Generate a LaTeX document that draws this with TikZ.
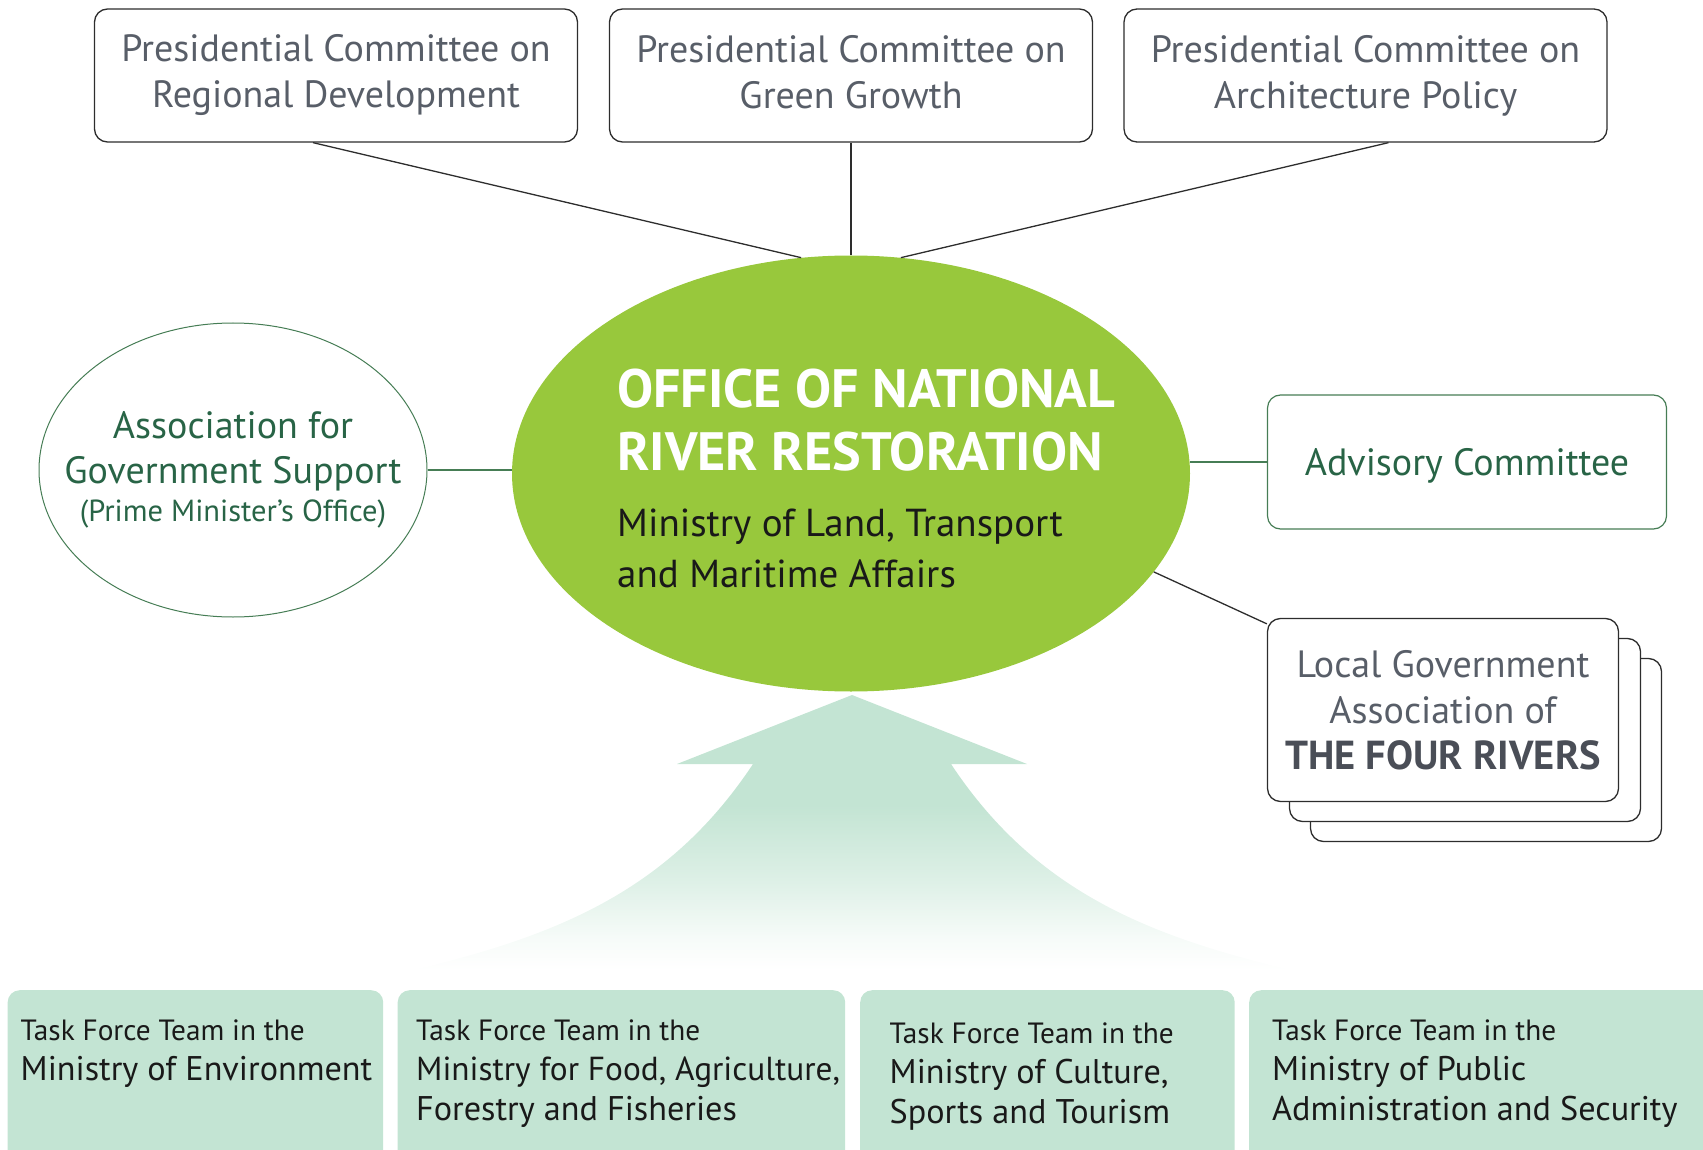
\documentclass[tikz,border=0pt]{standalone}
\usepackage{fontspec}
\setmainfont{PT Sans}
\usepackage{tikz}
\usetikzlibrary{shapes.geometric,positioning}

\definecolor{leaf}{RGB}{152,200,60}
\definecolor{mint}{RGB}{195,228,211}
\colorlet{mintpale}{mint!15!white}
\colorlet{mintmid}{mint!55!white}
\definecolor{slate}{RGB}{88,94,104}
\definecolor{slatedark}{RGB}{74,78,87}
\definecolor{pine}{RGB}{40,100,70}
\definecolor{pineline}{RGB}{70,125,85}
\definecolor{edge}{RGB}{45,45,45}
\definecolor{ink}{RGB}{25,25,25}

\pgfdeclareverticalshading{arrowfade}{100bp}{color(0bp)=(white); color(25bp)=(white); color(31bp)=(mintpale); color(41bp)=(mintmid); color(55bp)=(mint); color(100bp)=(mint)}

\begin{document}
\begin{tikzpicture}[x=1pt,y=-1pt,
		pcbox/.style={draw=edge, line width=1.3pt, rounded corners=13pt, minimum width=483pt, minimum height=133pt, align=center, text=slate, font=\fontsize{38}{46}\selectfont},
		office/.style={ellipse, fill=leaf, minimum width=678pt, minimum height=436pt, inner sep=0pt},
		assoc/.style={ellipse, draw=pineline, line width=1pt, minimum width=388pt, minimum height=294pt, inner sep=0pt},
		advbox/.style={draw=pineline, line width=1.2pt, rounded corners=13pt, minimum width=399pt, minimum height=134pt, text depth=0pt, text=pine, font=\fontsize{38}{46}\selectfont},
		lgbox/.style={draw=edge, fill=white, line width=1.3pt, rounded corners=13pt, minimum width=351pt, minimum height=183pt, align=center, text=slate, font=\fontsize{38}{46}\selectfont},
		tfbox/.style={fill=mint, rounded corners=12pt, anchor=north west, minimum height=190pt, inner sep=0pt},
		tftext/.style={anchor=north west, inner sep=0pt, align=left, text=ink, font=\fontsize{34.2}{40}\selectfont},
		link/.style={draw=edge, line width=1.3pt},
		greenlink/.style={draw=pineline, line width=1.2pt}]
		\useasboundingbox (0,0) rectangle (1703,1150);
		\clip (0,0) rectangle (1703,1150);
		%\draw [help lines, step=50] (0,0) grid (1703,1150);
		%Arrow
		\path [shading=arrowfade] (852,695) -- (1027,764) -- (951,764)
			.. controls (1034.5,890) and (1145.5,935.5) .. (1291,970) -- (413,970)
			.. controls (558.5,935.5) and (669.5,890) .. (753,764) -- (677,764) -- cycle;
		%Committees
		\node [pcbox] (pcregion) at (336,75.5) {Presidential Committee on\\Regional Development};
		\node [pcbox] (pcgreen) at (851,75.5) {Presidential Committee on\\Green Growth\vphantom{y}};
		\node [pcbox] (pcarch) at (1365.5,75.5) {Presidential Committee on\\Architecture Policy};
		%Office
		\node [office] (office) at (851,473.5) {};
		\node [anchor=north west, inner sep=0pt, align=left, text=white, font=\bfseries\fontsize{54}{63}\selectfont] (officetitle) at (617,369) {OFFICE OF NATIONAL\\RIVER RESTORATION};
		\node [anchor=north west, inner sep=0pt, align=left, text=ink, font=\fontsize{39}{51}\selectfont] (officesub) at (617,509) {Ministry of Land, Transport\\and Maritime Affairs};
		%Association
		\node [assoc] (assoc) at (233,470) {};
		\node [align=center, text=pine, font=\fontsize{38}{45}\selectfont] (assoclabel) at (233,470) {Association for\\Government Support\\[-7pt]{\fontsize{30.5}{38}\selectfont (Prime Minister’s Office)}};
		%Advisory
		\node [advbox] (advisory) at (1467,462) {Advisory Committee};
		%Local governments
		\node [lgbox] (localc) at (1486,750) {};
		\node [lgbox] (localb) at (1465,730) {};
		\node [lgbox] (local) at (1443,710) {Local Government\\Association of\\{\bfseries\fontsize{40.5}{46}\selectfont\color{slatedark}THE FOUR RIVERS}};
		%Links
		\draw [link] ([xshift=-23pt]pcregion.south) -- (office.103);
		\draw [link] (pcgreen.south) -- (office.north);
		\draw [link] ([xshift=23pt]pcarch.south) -- (office.77);
		\draw [greenlink] (assoc.east) -- (assoc.east -| office.west);
		\draw [greenlink] (office.east |- advisory.west) -- (advisory.west);
		\draw [link] (office.-18) -- ([yshift=-6pt]local.north west);
		%Task forces
		\node [tfbox, minimum width=375.5pt] (tfenv) at (7.5,990) {};
		\node [tfbox, minimum width=447.5pt] (tffood) at (397.5,990) {};
		\node [tfbox, minimum width=374.5pt] (tfculture) at (860,990) {};
		\node [tfbox, minimum width=470pt] (tfpublic) at (1249,990) {};
		\node [tftext] (tfenvtext) at ([xshift=13pt,yshift=-30pt]tfenv.north west) {{\fontsize{29.3}{40}\selectfont Task Force Team in the}\\Ministry of Environment};
		\node [tftext] (tffoodtext) at ([xshift=18.5pt,yshift=-30pt]tffood.north west) {{\fontsize{29.3}{40}\selectfont Task Force Team in the}\\{\fontsize{33.3}{40}\selectfont Ministry for Food, Agriculture,}\\Forestry and Fisheries};
		\node [tftext] (tfculturetext) at ([xshift=29.5pt,yshift=-33pt]tfculture.north west) {{\fontsize{29.3}{40}\selectfont Task Force Team in the}\\Ministry of Culture,\\Sports and Tourism};
		\node [tftext] (tfpublictext) at ([xshift=23pt,yshift=-30pt]tfpublic.north west) {{\fontsize{29.3}{40}\selectfont Task Force Team in the}\\Ministry of Public\\Administration and Security};
	\end{tikzpicture}
\end{document}
